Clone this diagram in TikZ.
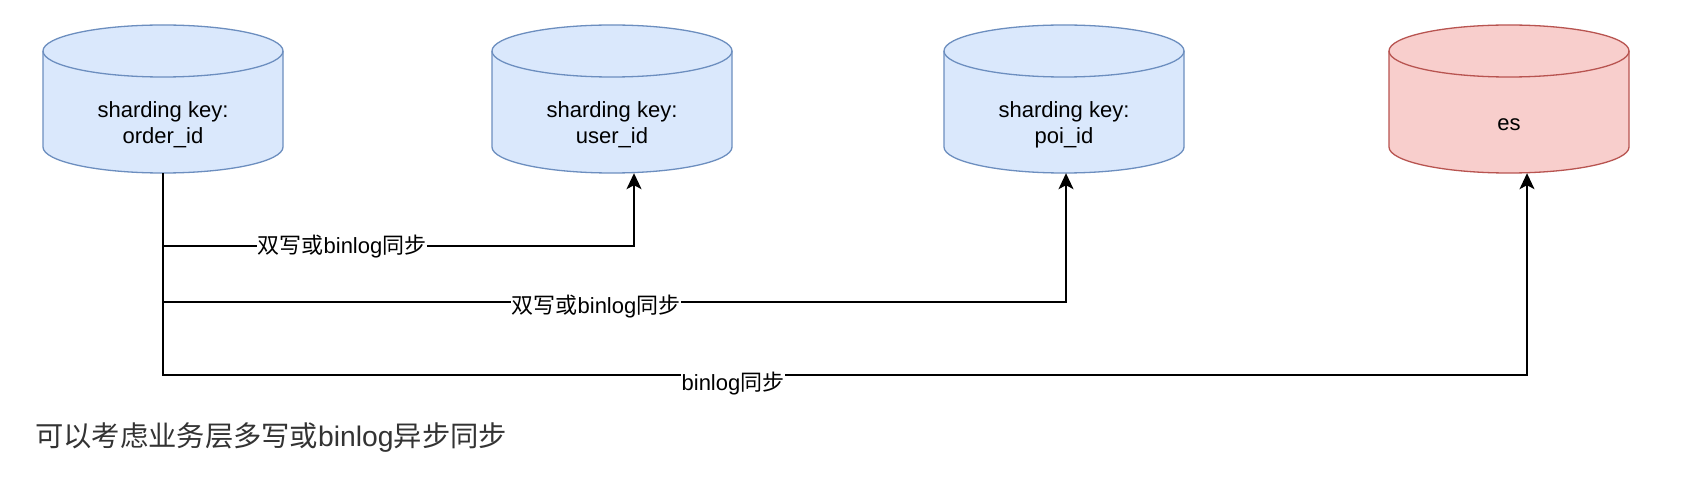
\documentclass[tikz,border=0pt]{standalone}
\usepackage{fontspec}
\setmainfont{Liberation Sans}
\newfontfamily\cjk{Noto Sans CJK SC}
\usetikzlibrary{arrows.meta}
\definecolor{bluefill}{HTML}{DAE8FC}
\definecolor{bluedraw}{HTML}{6C8EBF}
\definecolor{redfill}{HTML}{F8CECC}
\definecolor{reddraw}{HTML}{B85450}
\definecolor{notecol}{HTML}{333333}
\newcommand\dbcyl[3]{%
  \filldraw[fill=#2,draw=#3,line width=1.3pt]
    (#1-120,-51) -- (#1-120,-147)
    arc[start angle=180,end angle=360,x radius=120pt,y radius=26pt]
    -- (#1+120,-51)
    arc[start angle=0,end angle=180,x radius=120pt,y radius=26pt] -- cycle;
  \draw[draw=#3,line width=1.3pt] (#1-120,-51)
    arc[start angle=180,end angle=360,x radius=120pt,y radius=26pt];
}
\tikzset{
  dbtext/.style={minimum width=240pt,minimum height=96pt,inner sep=0pt,align=center,
    font=\fontsize{22}{26}\selectfont},
  conn/.style={line width=1.6pt,-{Stealth[length=16pt,width=15pt,inset=4pt]}},
  lbl/.style={fill=white,inner sep=1pt,font=\fontsize{22}{26}\selectfont},
  notetext/.style={anchor=west,inner sep=0pt,text=notecol,font=\fontsize{28.3}{32}\selectfont},
}
\begin{document}
\begin{tikzpicture}[x=1pt,y=1pt]
\useasboundingbox (0,0) rectangle (1686,-478);
\fill[white] (0,0) rectangle (1686,-478);
% cylinders
\dbcyl{163}{bluefill}{bluedraw}
\dbcyl{612}{bluefill}{bluedraw}
\dbcyl{1064}{bluefill}{bluedraw}
\dbcyl{1509}{redfill}{reddraw}
\node[dbtext] (c1) at (163,-125) {sharding key:\\order\_id};
\node[dbtext] (c2) at (612,-125) {sharding key:\\user\_id};
\node[dbtext] (c3) at (1064,-125) {sharding key:\\poi\_id};
\node[dbtext] (c4) at (1509,-125) {es};
% bend points
\coordinate (k1) at (634,-246);
\coordinate (k2) at (1066,-302);
\coordinate (k3) at (1527,-375);
% connectors
\draw[conn] (c1.south) |- (k1) -- (k1 |- c2.south);
\draw[conn] (c1.south) |- (k2) -- (k2 |- c3.south);
\draw[conn] (c1.south) |- (k3) -- (k3 |- c4.south);
% labels
\node[lbl] (l1) at (342,-247) {{\cjk 双写或}binlog{\cjk 同步}};
\node[lbl] (l2) at (596,-307) {{\cjk 双写或}binlog{\cjk 同步}};
\node[lbl] (l3) at (733,-384) {binlog{\cjk 同步}};
% note
\node[notetext] (note) at (35,-438) {{\cjk 可以考虑业务层多写或}binlog{\cjk 异步同步}};
\end{tikzpicture}
\end{document}
